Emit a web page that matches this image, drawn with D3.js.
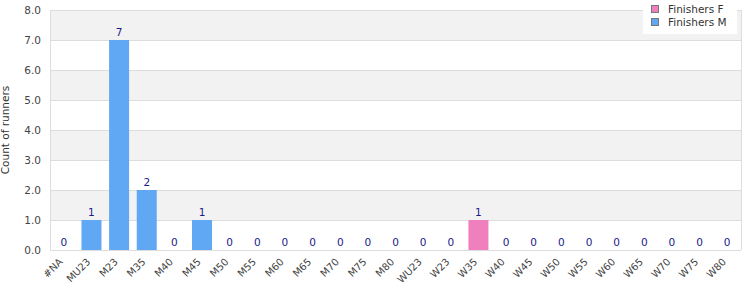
<!DOCTYPE html>
<html><head><meta charset="utf-8">
<script src="https://cdn.jsdelivr.net/npm/d3@7"></script>
<style>body{margin:0;background:#fff;}svg{display:block;font-family:"DejaVu Sans",sans-serif;}</style>
</head><body>
<svg id="c" width="750" height="300"></svg>
<script>
const categories = ["#NA","MU23","M23","M35","M40","M45","M50","M55","M60","M65","M70","M75","M80","WU23","W23","W35","W40","W45","W50","W55","W60","W65","W70","W75","W80"];
const finishersM = [0,1,7,2,0,1,0,0,0,0,0,0,0,0,0,null,0,0,0,0,0,0,0,0,0];
const finishersF = [null,null,null,null,null,null,null,null,null,null,null,null,null,null,null,1,null,null,null,null,null,null,null,null,null];
const yTicks = [0,1,2,3,4,5,6,7,8];
const seriesNames = ["Finishers F","Finishers M"];
const colors = {"Finishers F":"#f080bd","Finishers M":"#60a8f3"};

const svg = d3.select("#c");
const L=50, R=741, T=10, B=250;
const x = d3.scaleBand().domain(categories).range([L,R]);
const y = d3.scaleLinear().domain([0,8]).range([B,T]);

// bands
const g = svg.append("g");
for (let i=0;i<8;i++){
  g.append("rect").attr("x",L).attr("width",R-L)
    .attr("y",y(i+1)).attr("height",y(i)-y(i+1))
    .attr("fill", i%2===1 ? "#f2f2f2" : "#ffffff");
}
g.selectAll("line.grid").data(yTicks).join("line").attr("class","grid")
  .attr("x1",L).attr("x2",R).attr("y1",d=>y(d)+0.5).attr("y2",d=>y(d)+0.5)
  .attr("stroke","#dddddd");
g.append("line").attr("x1",L+0.5).attr("x2",L+0.5).attr("y1",T).attr("y2",B).attr("stroke","#dddddd");
g.append("line").attr("x1",R+0.5).attr("x2",R+0.5).attr("y1",T).attr("y2",B).attr("stroke","#dddddd");

// y axis
const yAxis = d3.axisLeft(y).tickValues(yTicks).tickFormat(d3.format(".1f")).tickSize(0).tickPadding(9);
const ya = svg.append("g").attr("transform",`translate(${L},0)`).call(yAxis);
ya.select(".domain").remove();
ya.selectAll("text").attr("fill","#444").attr("font-size","10.5px").attr("font-family","DejaVu Sans");

svg.append("text").attr("transform",`translate(9,${(T+B)/2}) rotate(-90)`)
  .attr("text-anchor","middle").attr("font-size","10.5px").attr("fill","#333").text("Count of runners");

// x axis
const xAxis = d3.axisBottom(x).tickSize(0).tickPadding(0);
const xa = svg.append("g").attr("transform",`translate(0,${B})`).call(xAxis);
xa.select(".domain").remove();
xa.selectAll("text").attr("fill","#444").attr("font-size","10px").attr("font-family","DejaVu Sans")
  .attr("text-anchor","end").attr("y",0).attr("dy","0.35em")
  .attr("transform","translate(-3,10) rotate(-45)");

// bars
const bw = 20;
function drawSeries(vals,name){
  const data = categories.map((c,i)=>({c,v:vals[i]})).filter(d=>d.v!==null);
  svg.append("g").selectAll("rect").data(data.filter(d=>d.v>0)).join("rect")
    .attr("x",d=>x(d.c)+x.bandwidth()/2-bw/2).attr("width",bw)
    .attr("y",d=>y(d.v)).attr("height",d=>y(0)-y(d.v)).attr("fill",colors[name]);
  svg.append("g").selectAll("text").data(data).join("text")
    .attr("x",d=>x(d.c)+x.bandwidth()/2).attr("y",d=>y(d.v)-4)
    .attr("text-anchor","middle").attr("font-size","10.5px").attr("fill","#1a1a8a").text(d=>d.v);
}
drawSeries(finishersM,"Finishers M");
drawSeries(finishersF,"Finishers F");

// legend
const lg = svg.append("g");
lg.append("rect").attr("x",643).attr("y",0).attr("width",94).attr("height",34).attr("fill","#fff");
seriesNames.forEach((n,i)=>{
  lg.append("rect").attr("x",651.5).attr("y",5.5+i*13).attr("width",7).attr("height",7)
    .attr("fill",colors[n]).attr("stroke","#777");
  lg.append("text").attr("x",668).attr("y",9+i*13).attr("dy","0.35em")
    .attr("font-size","10.5px").attr("fill","#333").text(n);
});
</script>
</body></html>
